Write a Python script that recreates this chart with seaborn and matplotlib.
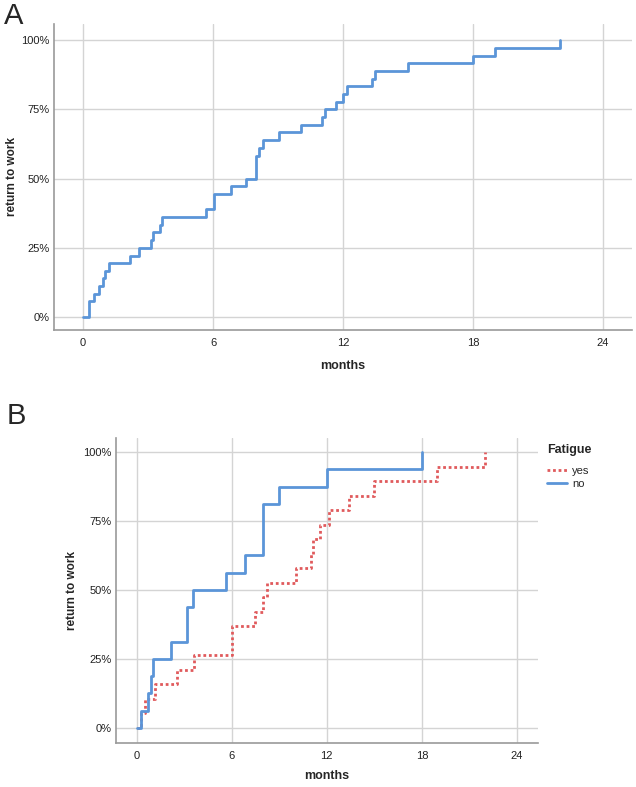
import matplotlib
matplotlib.use("Agg")
import matplotlib.pyplot as plt
from matplotlib.lines import Line2D
from matplotlib.ticker import PercentFormatter
import pandas as pd
import seaborn as sns

# Panel A: all patients, cumulative return to work (%)
all_months = [0, 0.28, 0.52, 0.74, 0.91, 1.02, 1.22, 2.17, 2.57, 3.14, 3.21, 3.55, 3.63,
              5.66, 6.03, 6.83, 7.51, 8.0, 8.1, 8.29, 9.03, 10.06, 11.04, 11.17, 11.68,
              12.01, 12.17, 13.35, 13.5, 15.01, 18.01, 19.01, 22.01]
all_pct = [0, 5.6, 8.3, 11.1, 13.9, 16.7, 19.4, 22.2, 25.0, 27.8, 30.6, 33.3, 36.1,
           38.9, 44.4, 47.2, 50.0, 58.3, 61.1, 63.9, 66.7, 69.4, 72.2, 75.0, 77.8,
           80.6, 83.3, 86.1, 88.9, 91.7, 94.4, 97.2, 100.0]

# Panel B: split by fatigue
yes_months = [0, 0.25, 0.52, 1.15, 2.56, 3.63, 6.03, 7.45, 7.98, 8.25, 10.04, 11.03,
              11.13, 11.59, 12.14, 13.4, 14.95, 18.92, 21.95]
yes_pct = [0, 5.3, 10.5, 15.8, 21.1, 26.3, 36.8, 42.1, 47.4, 52.6, 57.9, 63.2,
           68.4, 73.7, 78.9, 84.2, 89.5, 94.7, 100.0]
no_months = [0, 0.27, 0.73, 0.88, 1.01, 2.14, 3.15, 3.19, 3.53, 5.63, 6.82, 8.0,
             8.99, 11.99, 18.0]
no_pct = [0, 6.25, 12.5, 18.75, 25.0, 31.25, 37.5, 43.75, 50.0, 56.25, 62.5, 81.25,
          87.5, 93.75, 100.0]

x_ticks = [0, 6, 12, 18, 24]
y_ticks = [0, 25, 50, 75, 100]

BLUE = "#5b95d8"
RED = "#e05a5c"

sns.set_style("whitegrid")
plt.rcParams["font.family"] = ["Liberation Sans", "DejaVu Sans"]

fig = plt.figure(figsize=(6.36, 7.87), dpi=100)
ax_a = fig.add_axes([0.0849, 0.5807, 0.9088, 0.3888])
ax_b = fig.add_axes([0.1824, 0.0563, 0.663, 0.3872])


def style_axis(ax, xlim, ylim, ylab_x, xlab_y):
    ax.set_xlim(*xlim)
    ax.set_ylim(*ylim)
    ax.set_xticks(x_ticks)
    ax.set_yticks(y_ticks)
    ax.yaxis.set_major_formatter(PercentFormatter(decimals=0))
    ax.grid(True, color="#d4d4d4", linewidth=1.0)
    for side in ["top", "right"]:
        ax.spines[side].set_visible(False)
    for side in ["left", "bottom"]:
        ax.spines[side].set_color("#9a9a9a")
        ax.spines[side].set_linewidth(1.2)
    ax.tick_params(axis="both", length=0, labelsize=8, colors="#222222")
    ax.tick_params(axis="x", pad=6)
    ax.tick_params(axis="y", pad=3)
    ax.set_xlabel("months", fontsize=9, fontweight="bold")
    ax.set_ylabel("return to work", fontsize=8.5, fontweight="bold")
    ax.yaxis.set_label_coords(ylab_x, 0.5)
    ax.xaxis.set_label_coords(0.5, xlab_y)


# Panel A
df_a = pd.DataFrame({"months": all_months, "pct": all_pct})
sns.lineplot(data=df_a, x="months", y="pct", ax=ax_a, drawstyle="steps-post",
             estimator=None, sort=False, color=BLUE, linewidth=2)
style_axis(ax_a, (-1.34, 25.34), (-4.7, 105.8), -0.062, -0.098)

# Panel B
df_b = pd.concat([
    pd.DataFrame({"months": yes_months, "pct": yes_pct, "Fatigue": "yes"}),
    pd.DataFrame({"months": no_months, "pct": no_pct, "Fatigue": "no"}),
])
sns.lineplot(data=df_b[df_b["Fatigue"] == "yes"], x="months", y="pct", ax=ax_b,
             drawstyle="steps-post", estimator=None, sort=False, color=RED,
             linewidth=2, dashes=False, linestyle=(0, (1, 1)))
sns.lineplot(data=df_b[df_b["Fatigue"] == "no"], x="months", y="pct", ax=ax_b,
             drawstyle="steps-post", estimator=None, sort=False, color=BLUE,
             linewidth=2)
style_axis(ax_b, (-1.3, 25.3), (-5.4, 105.1), -0.09, -0.09)

handles = [Line2D([], [], color=RED, linewidth=2, linestyle=(0, (1, 1))),
           Line2D([], [], color=BLUE, linewidth=2)]
leg = fig.legend(handles, ["yes", "no"], title="Fatigue", loc="upper left",
                 bbox_to_anchor=(0.845, 1 - 434 / 787), frameon=False,
                 fontsize=8, title_fontsize=9, handlelength=1.8,
                 handletextpad=0.4, labelspacing=0.3)
leg.get_title().set_fontweight("bold")
leg._legend_box.align = "left"
leg._legend_box.sep = 7

fig.text(0.006, 0.998, "A", fontsize=21, va="top", ha="left")
fig.text(0.01, 1 - 402 / 787, "B", fontsize=21, va="top", ha="left")

fig.savefig("out.png", dpi=100)
